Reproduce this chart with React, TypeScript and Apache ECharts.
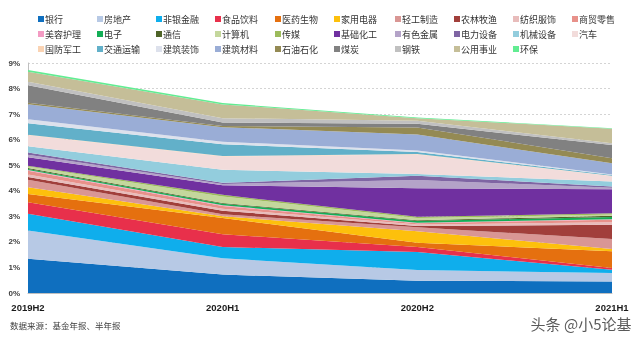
import React, { useEffect, useRef } from "react";
import * as echarts from "echarts";

const periods = ["2019H2", "2020H1", "2020H2", "2021H1"];

const industries = [
  "银行", "房地产", "非银金融", "食品饮料", "医药生物", "家用电器", "轻工制造", "农林牧渔", "纺织服饰", "商贸零售",
  "美容护理", "电子", "通信", "计算机", "传媒", "基础化工", "有色金属", "电力设备", "机械设备", "汽车",
  "国防军工", "交通运输", "建筑装饰", "建筑材料", "石油石化", "煤炭", "钢铁", "公用事业", "环保",
];

const palette = [
  "#0F6FBF", "#B7C9E5", "#0FAEEC", "#E8304B", "#E5700F", "#FDC00C", "#D99694", "#A13F3B", "#E8BCBB", "#E8918A",
  "#F39BC3", "#13AE56", "#4E6327", "#C4D79C", "#9CBB5B", "#7030A0", "#B4A3C8", "#7F65A3", "#93CDDD", "#F2DCDB",
  "#FAD3B3", "#62B0C9", "#DDE1EC", "#9AADD6", "#948A54", "#818181", "#C0C0C0", "#C5BE98", "#62EC92",
];

// holding weight (%) per industry, one array per period, same order as industries
const v2019H2 = [1.34, 1.11, 0.65, 0.45, 0.32, 0.27, 0.29, 0.11, 0.10, 0.14, 0.03, 0.04, 0.04, 0.06, 0.03, 0.33, 0.10, 0.09, 0.24, 0.43, 0.02, 0.45, 0.16, 0.59, 0.05, 0.69, 0.14, 0.39, 0.07];
const v2020H1 = [0.72, 0.64, 0.44, 0.50, 0.63, 0.07, 0.08, 0.14, 0.08, 0.10, 0.03, 0.06, 0.03, 0.26, 0.06, 0.38, 0.05, 0.04, 0.51, 0.52, 0.02, 0.46, 0.10, 0.57, 0.04, 0.14, 0.17, 0.54, 0.05];
const v2020H2 = [0.48, 0.42, 0.70, 0.20, 0.17, 0.45, 0.15, 0.05, 0.06, 0.05, 0.02, 0.07, 0.03, 0.08, 0.05, 1.12, 0.32, 0.17, 0.07, 0.76, 0.02, 0.08, 0.06, 0.62, 0.28, 0.14, 0.12, 0.10, 0.03];
const v2021H1 = [0.45, 0.33, 0.13, 0.07, 0.65, 0.09, 0.39, 0.56, 0.10, 0.10, 0.02, 0.08, 0.05, 0.05, 0.05, 0.94, 0.06, 0.05, 0.19, 0.22, 0.01, 0.03, 0.02, 0.44, 0.19, 0.52, 0.07, 0.57, 0.02];

const yMin = 0;
const yMax = 9;
const yStep = 1;

const sourceNote = "数据来源：基金年报、半年报";
const watermark = "头条 @小5论基";

const legendLefts = [33, 92, 151, 210, 270, 329, 390, 449, 508, 567];

const CJK = "'Noto Sans CJK SC', 'Microsoft YaHei', sans-serif";
const LATIN = "'Liberation Sans', Arial, sans-serif";

export default function App() {
  const ref = useRef<HTMLDivElement>(null);
  useEffect(() => {
    if (!ref.current) return;
    const chart = echarts.init(ref.current, null, { renderer: "svg" });
    const periodValues = [v2019H2, v2020H1, v2020H2, v2021H1];
    const series = industries.map((name, i) => ({
      name,
      type: "line",
      stack: "total",
      data: periodValues.map((arr) => arr[i]),
      symbol: "none",
      showSymbol: false,
      lineStyle: { width: 0 },
      areaStyle: { color: palette[i], opacity: 1 },
      itemStyle: { color: palette[i] },
      emphasis: { disabled: true },
    }));
    const legends = legendLefts.map((left, c) => ({
      orient: "vertical",
      left,
      top: 8,
      itemWidth: 6,
      itemHeight: 6,
      itemGap: 3,
      icon: "rect",
      selectedMode: false,
      data: [industries[c], industries[c + 10], industries[c + 20]].filter(Boolean),
      textStyle: {
        fontFamily: CJK,
        fontSize: 9,
        lineHeight: 12,
        color: "#333",
        padding: [0, 0, 0, -4],
      },
    }));
    chart.setOption({
      animation: false,
      color: palette,
      legend: legends,
      grid: { left: 28, right: 28, top: 63, bottom: 44 },
      xAxis: {
        type: "category",
        data: periods,
        boundaryGap: false,
        axisLine: { show: true, lineStyle: { color: "#bfbfbf" } },
        axisTick: { show: false },
        axisLabel: {
          margin: 9,
          fontFamily: LATIN,
          fontSize: 9.5,
          fontWeight: "bold",
          color: "#1a1a1a",
        },
      },
      yAxis: {
        type: "value",
        min: yMin,
        max: yMax,
        interval: yStep,
        axisLine: { show: true, lineStyle: { color: "#bfbfbf" } },
        axisTick: { show: false },
        axisLabel: {
          formatter: "{value}%",
          margin: 8,
          fontFamily: LATIN,
          fontSize: 8,
          fontWeight: "bold",
          color: "#404040",
        },
        splitLine: { show: true, lineStyle: { color: "#d4d4d4", type: [2, 2], width: 1 } },
      },
      graphic: [
        {
          type: "text",
          left: 10,
          top: 321,
          style: { text: sourceNote, font: `8.5px ${CJK}`, fill: "#404040" },
        },
        {
          type: "text",
          right: 8,
          top: 315,
          style: {
            text: watermark,
            font: `15px ${CJK}`,
            fill: "#5a5a5a",
            stroke: "#ffffff",
            lineWidth: 1,
          },
        },
      ],
      series,
    });
    return () => chart.dispose();
  }, []);
  return <div ref={ref} style={{ width: 640, height: 337, position: "fixed", left: 0, top: 0 }} />;
}
